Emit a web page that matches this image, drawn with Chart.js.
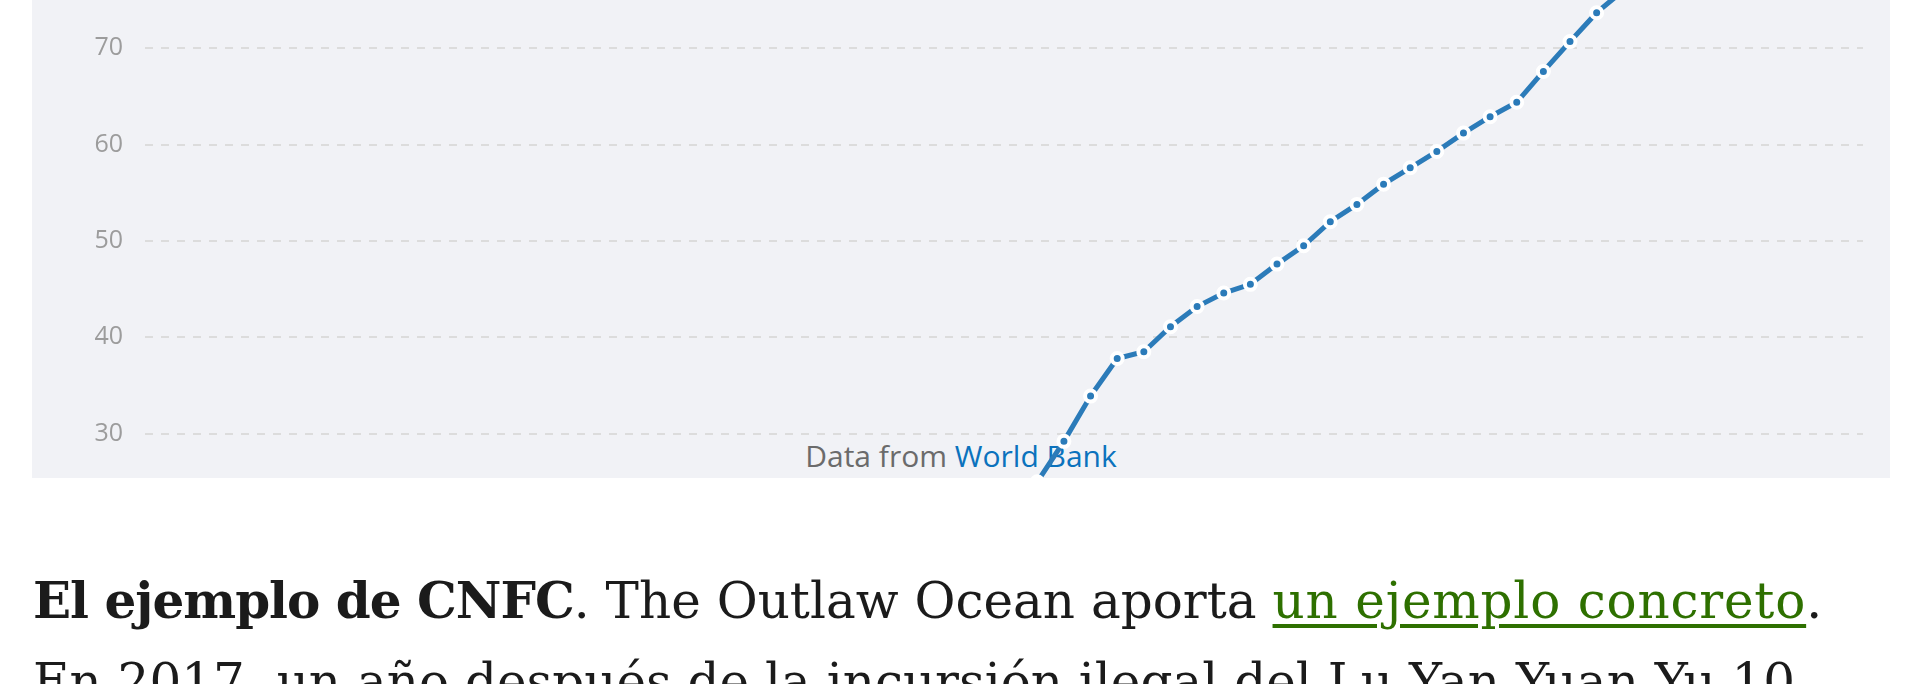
<!DOCTYPE html>
<html lang="es">
<head>
<meta charset="utf-8">
<script src="https://cdn.jsdelivr.net/npm/chart.js@4.4.1/dist/chart.umd.min.js"></script>
<style>
  body { margin: 0; background: #fff; width: 1916px; height: 684px; overflow: hidden; position: relative; }
  #panel { position: absolute; left: 32px; top: 0; width: 1858px; height: 478px; background: #f1f2f6; overflow: hidden; }
  #fuente { position: absolute; left: 0; right: 0; top: 435px; text-align: center; font-family: 'Open Sans', sans-serif; font-size: 30px; color: #6b6b6b; }
  #fuente a { color: #0b72bd; text-decoration: none; }
  #grafico { position: absolute; left: 0; top: -48px; width: 1831px; height: 578px; }
  #texto { position: absolute; left: 33px; top: 560px; width: 1860px; font-family: 'DejaVu Serif', serif; font-size: 50px; line-height: 81px; color: #1b1b1b; }
  #texto b { letter-spacing: -1px; }
  #texto a { color: #2e7000; letter-spacing: 0.8px; text-decoration: underline; text-decoration-thickness: 4px; text-underline-offset: 6px; }
</style>
</head>
<body>
<div id="panel">
  <div id="fuente">Data from <a href="#">World Bank</a></div>
  <div id="grafico"><canvas id="lineChart"></canvas></div>
</div>
<div id="texto">
  <b>El ejemplo de CNFC</b>. The Outlaw Ocean aporta <a href="#">un ejemplo concreto</a>.<br>
  En 2017, un año después de la incursión ilegal del Lu Yan Yuan Yu 10
</div>
<script>
// Años y valores
const years = [1989, 1990, 1991, 1992, 1993, 1994, 1995, 1996, 1997, 1998, 1999, 2000,
  2001, 2002, 2003, 2004, 2005, 2006, 2007, 2008, 2009, 2010, 2011];
const values = [25.0, 29.2, 33.9, 37.8, 38.5, 41.1, 43.2, 44.6, 45.5, 47.6, 49.5, 52.0,
  53.8, 55.9, 57.6, 59.3, 61.2, 62.9, 64.4, 67.6, 70.7, 73.7, 76.0];

// Rango de los ejes (solo se ve una parte)
const xRange = [1955.5, 2020];
const yRange = [20, 80];
const yStep = 10;

const ctx = document.getElementById('lineChart').getContext('2d');
new Chart(ctx, {
  type: 'line',
  data: {
    datasets: [{
      data: years.map((y, i) => ({ x: y, y: values[i] })),
      borderColor: '#2b7bb9',
      borderWidth: 5,
      backgroundColor: '#2b7bb9',
      pointRadius: 5.5,
      pointBorderWidth: 4,
      pointBorderColor: '#ffffff',
      pointBackgroundColor: '#2b7bb9',
      tension: 0
    }]
  },
  options: {
    responsive: true,
    maintainAspectRatio: false,
    animation: false,
    layout: { padding: 0, autoPadding: false },
    plugins: { legend: { display: false }, tooltip: { enabled: false } },
    scales: {
      x: {
        type: 'linear',
        min: xRange[0],
        max: xRange[1],
        display: false
      },
      y: {
        min: yRange[0],
        max: yRange[1],
        grid: { color: '#dcdcdc', lineWidth: 2, drawTicks: false },
        border: { display: false, dash: [8, 8] },
        ticks: {
          stepSize: yStep,
          padding: 22,
          color: '#9c9c9c',
          font: { family: 'Open Sans', size: 25 }
        },
        afterFit: (scale) => {
          scale.width = 113;
          scale.paddingTop = 0;
          scale.paddingBottom = 0;
        }
      }
    }
  }
});
</script>
</body>
</html>
